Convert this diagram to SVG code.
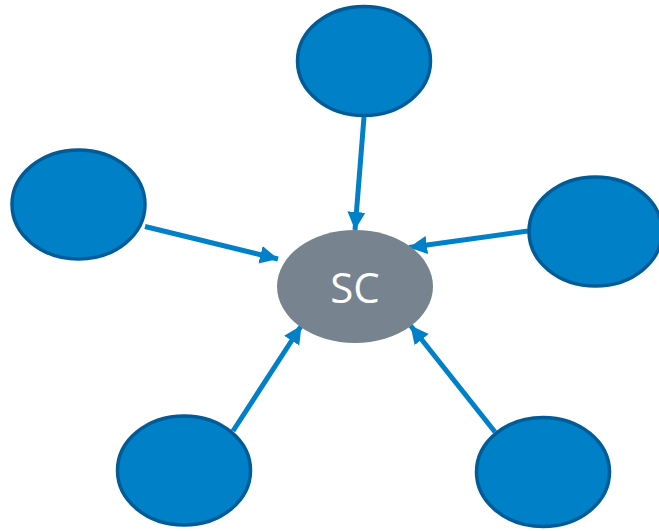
<svg xmlns="http://www.w3.org/2000/svg" width="659" height="531" viewBox="0 0 659 531">
<style>
.leaf{fill:#0080C6;stroke:#005C98;stroke-width:3.5}
.hub{fill:#77838F}
.edge{stroke:#0080C8;stroke-width:5;fill:none}
.lbl{font-family:"Open Sans","Liberation Sans",sans-serif;font-size:42px;fill:#ffffff;text-anchor:middle}
</style>
<defs>
<marker id="ah" markerUnits="userSpaceOnUse" markerWidth="20" markerHeight="20" viewBox="0 0 20 20" refX="18" refY="10" orient="auto">
<path d="M0,1 L18,10 L0,19 Z" fill="#0080C8"/>
</marker>
</defs>
<rect width="659" height="531" fill="#ffffff"/>
<g id="connectors">
<line class="edge" x1="364" y1="117" x2="355" y2="230" marker-end="url(#ah)"/>
<line class="edge" x1="145" y1="226.5" x2="278" y2="259" marker-end="url(#ah)"/>
<line class="edge" x1="528" y1="231" x2="409" y2="247.5" marker-end="url(#ah)"/>
<line class="edge" x1="233" y1="431" x2="301.5" y2="325.5" marker-end="url(#ah)"/>
<line class="edge" x1="495" y1="432" x2="410.5" y2="325.5" marker-end="url(#ah)"/>
</g>
<g id="node-top"><ellipse class="leaf" cx="364" cy="61" rx="66.5" ry="54.5"/></g>
<g id="node-left"><ellipse class="leaf" cx="78.5" cy="204.5" rx="66.5" ry="54.5"/></g>
<g id="node-right"><ellipse class="leaf" cx="595.5" cy="231.5" rx="66.5" ry="54.5"/></g>
<g id="node-bottom-left"><ellipse class="leaf" cx="184" cy="470.5" rx="66.5" ry="54.5"/></g>
<g id="node-bottom-right"><ellipse class="leaf" cx="543" cy="472" rx="66.5" ry="54.5"/></g>
<g id="node-sc">
<ellipse class="hub" cx="355" cy="286.5" rx="78" ry="56.5"/>
<text class="lbl" x="355" y="303">SC</text>
</g>
</svg>
